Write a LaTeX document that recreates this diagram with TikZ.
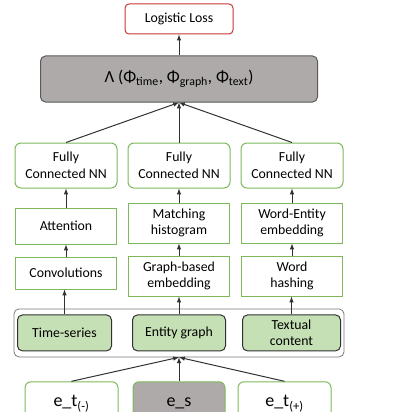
\documentclass[tikz,border=0pt]{standalone}
\usepackage{fontspec}
\setmainfont{Carlito}
\usepackage{tikz}
\usetikzlibrary{positioning}

\definecolor{lossred}{RGB}{200,55,55}
\definecolor{boxgreen}{RGB}{125,185,90}
\definecolor{lightgreen}{RGB}{197,224,180}
\definecolor{midgray}{RGB}{174,170,170}
\definecolor{bordergray}{RGB}{90,90,90}
\definecolor{linegray}{RGB}{50,50,50}

\begin{document}
\begin{tikzpicture}[x=1pt, y=1pt,
  font=\fontsize{13.8}{16.7}\selectfont,
  lossnode/.style={rectangle, rounded corners=4pt, draw=lossred, line width=1pt, fill=white, minimum width=108pt, minimum height=30pt, inner sep=0pt},
  combnode/.style={rectangle, rounded corners=5pt, draw=bordergray, line width=1pt, fill=midgray, minimum width=277pt, minimum height=46pt, inner sep=0pt, font=\fontsize{17}{20}\selectfont},
  fcnode/.style={rectangle, rounded corners=6pt, draw=boxgreen, line width=1pt, minimum width=102pt, minimum height=45pt, inner sep=0pt, align=center},
  layernode/.style={rectangle, draw=boxgreen, line width=1pt, minimum width=101pt, inner sep=0pt, align=center},
  groupnode/.style={rectangle, rounded corners=5pt, draw=bordergray!80, line width=0.8pt, minimum width=330pt, minimum height=48pt, inner sep=0pt},
  sourcenode/.style={rectangle, rounded corners=5pt, draw=linegray, line width=1pt, fill=lightgreen, minimum height=36pt, inner sep=0pt, align=center},
  inputnode/.style={rectangle, rounded corners=6pt, draw=boxgreen, line width=1pt, minimum width=93pt, minimum height=44pt, inner sep=0pt, font=\fontsize{18}{20}\selectfont},
  conn/.style={-latex, line width=1pt, draw=linegray}
  ]
  \clip (0,0) rectangle (400,-412);

  % Loss and combination
  \node[lossnode]   (loss)      at (179,-19)               {Logistic Loss};
  \node[combnode]   (lambda)    [below=21pt of loss]        {Λ (Φ\textsubscript{time}, Φ\textsubscript{graph}, Φ\textsubscript{text})};

  % Fully connected layers
  \node[fcnode]     (fc2)       [below=40pt of lambda]      {Fully\\Connected NN};
  \node[fcnode]     (fc1)       [left=10pt of fc2]          {Fully\\Connected NN};
  \node[fcnode]     (fc3)       [right=10pt of fc2]         {Fully\\Connected NN};

  % Upper feature layers
  \node[layernode, minimum height=36pt]  (attn)     [below=19pt of fc1]  {Attention};
  \node[layernode, minimum height=40pt]  (match)    [below=14pt of fc2]  {Matching\\histogram};
  \node[layernode, minimum height=40pt]  (wordent)  [below=14pt of fc3]  {Word-Entity\\embedding};

  % Lower feature layers
  \node[layernode, minimum height=32pt]  (conv)     [below=12pt of attn]     {Convolutions};
  \node[layernode, minimum height=40pt]  (graphemb) [below=12pt of match]    {Graph-based\\embedding};
  \node[layernode, minimum height=40pt]  (hashing)  [below=12pt of wordent]  {Word\\hashing};

  % Data sources
  \node[groupnode]  (sources)   [below=12pt of graphemb]    {};
  \node[sourcenode, minimum width=93pt]  (entgraph)  at (sources)               {Entity graph};
  \node[sourcenode, minimum width=94pt]  (timeser)   [left=20pt of entgraph]    {Time-series};
  \node[sourcenode, minimum width=98pt]  (textual)   [right=16pt of entgraph]   {Textual\\content};

  % Entities
  \node[inputnode, fill=midgray, minimum width=92pt]  (es)  [below=24pt of sources]  {e\_s};
  \node[inputnode]  (etminus)   [left=14pt of es]           {e\_t\textsubscript{(-)}};
  \node[inputnode]  (etplus)    [right=12pt of es]          {e\_t\textsubscript{(+)}};

  % Connectors
  \draw[conn] (lambda) -- (loss);
  \draw[conn] (fc1.north) -- (lambda.south);
  \draw[conn] (fc2.north) -- (lambda.south);
  \draw[conn] (fc3.north) -- (lambda.south);
  \draw[conn] (attn.north) -- (attn.north |- fc1.south);
  \draw[conn] (match) -- (fc2);
  \draw[conn] (wordent) -- (fc3);
  \draw[conn] (conv) -- (attn);
  \draw[conn] (graphemb) -- (match);
  \draw[conn] (hashing) -- (wordent);
  \draw[conn] (timeser.north) -- (timeser.north |- conv.south);
  \draw[conn] (entgraph.north) -- (entgraph.north |- graphemb.south);
  \draw[conn] (textual.north) -- (textual.north |- hashing.south);
  \draw[conn] (etminus.north) -- (sources.south);
  \draw[conn] (es.north) -- (sources.south);
  \draw[conn] (etplus.north) -- (sources.south);
\end{tikzpicture}
\end{document}
